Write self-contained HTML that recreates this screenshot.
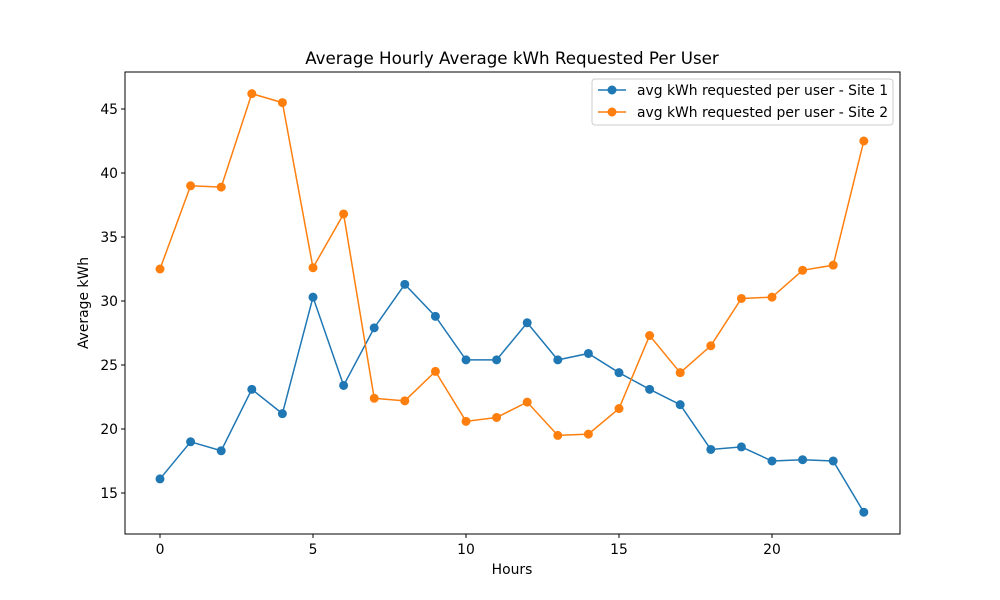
<!DOCTYPE html>
<html><head><meta charset="utf-8"><style>body{margin:0;background:#fff}svg{display:block;font-family:"DejaVu Sans","Liberation Sans",sans-serif}</style></head>
<body>
<svg id="chart" width="1000" height="600" xmlns="http://www.w3.org/2000/svg"></svg>
<script>
const hours = [0,1,2,3,4,5,6,7,8,9,10,11,12,13,14,15,16,17,18,19,20,21,22,23];
const site1 = [16.1,19.0,18.3,23.1,21.2,30.3,23.4,27.9,31.3,28.8,25.4,25.4,28.3,25.4,25.9,24.4,23.1,21.9,18.4,18.6,17.5,17.6,17.5,13.5];
const site2 = [32.5,39.0,38.9,46.2,45.5,32.6,36.8,22.4,22.2,24.5,20.6,20.9,22.1,19.5,19.6,21.6,27.3,24.4,26.5,30.2,30.3,32.4,32.8,42.5];
const xTicks = [0,5,10,15,20];
const yTicks = [15,20,25,30,35,40,45];
const seriesNames = ["avg kWh requested per user - Site 1","avg kWh requested per user - Site 2"];
const colors = ["#1f77b4","#ff7f0e"];

const svg = document.getElementById('chart');
const NS = "http://www.w3.org/2000/svg";
const L=125,R=900,T=72,B=534;
const FS=13.9;
const x = h => 160 + (h-0)*30.6;
const y = v => 493 - (v-15)*12.8;
function mk(tag, attrs, parent){const e=document.createElementNS(NS,tag);for(const k in attrs)e.setAttribute(k,attrs[k]);(parent||svg).appendChild(e);return e;}

const title = mk('text',{x:512,y:64,'text-anchor':'middle','font-size':16.7});
title.textContent="Average Hourly Average kWh Requested Per User";



xTicks.forEach(t=>{
  const g=mk('g',{});
  
  
  mk('line',{x1:x(t),x2:x(t),y1:B,y2:B+4,stroke:'#000'},g);
  const tx=mk('text',{x:x(t),y:B+20,'text-anchor':'middle','font-size':FS},g);tx.textContent=t;
});
yTicks.forEach(t=>{
  const g=mk('g',{});
  
  
  mk('line',{x1:L-4,x2:L,y1:y(t),y2:y(t),stroke:'#000'},g);
  const tx=mk('text',{x:L-7,y:y(t)+5,'text-anchor':'end','font-size':FS},g);tx.textContent=t;
});
const xl=mk('text',{x:512,y:574,'text-anchor':'middle','font-size':FS});xl.textContent="Hours";


const yl=mk('text',{x:88,y:303,'text-anchor':'middle','font-size':FS,transform:'rotate(-90 88 303)'});yl.textContent="Average kWh";



[site1,site2].forEach((s,i)=>{
  const g=mk('g',{});
  
  
  mk('polyline',{points:s.map((v,j)=>x(hours[j])+','+y(v)).join(' '),fill:'none',stroke:colors[i],'stroke-width':1.5},g);
  s.forEach((v,j)=>{
    const c=mk('circle',{cx:x(hours[j]),cy:y(v),r:4.5,fill:colors[i]},g);
    
    
  });
});

const frame=mk('rect',{x:L,y:T,width:R-L,height:B-T,fill:'none',stroke:'#000','stroke-width':1});



const lg=mk('g',{});


mk('rect',{x:592,y:79,width:301,height:46,rx:3,fill:'#fff',stroke:'#ccc'},lg);
seriesNames.forEach((n,i)=>{
  const yy=90+i*22;
  const e=mk('g',{},lg);
  
  
  mk('line',{x1:598,x2:626,y1:yy,y2:yy,stroke:colors[i],'stroke-width':1.5},e);
  mk('circle',{cx:612,cy:yy,r:4.5,fill:colors[i]},e);
  const t=mk('text',{x:637,y:yy+5,'font-size':FS},e);t.textContent=n;
});
</script>
</body></html>
